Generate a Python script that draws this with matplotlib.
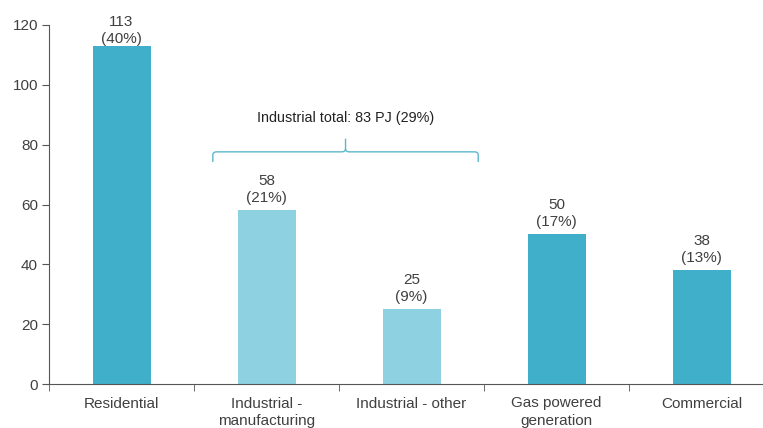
import matplotlib
matplotlib.use("Agg")
import matplotlib.pyplot as plt
from matplotlib.path import Path
from matplotlib.patches import PathPatch
import numpy as np

categories = ["Residential", "Industrial -\nmanufacturing", "Industrial - other",
              "Gas powered\ngeneration", "Commercial"]
values = [113, 58, 25, 50, 38]
shares = ["40%", "21%", "9%", "17%", "13%"]
is_industrial = [False, True, True, False, False]
bracket_text = "Industrial total: 83 PJ (29%)"
yticks = [0, 20, 40, 60, 80, 100, 120]

dark = "#40AFCA"
light = "#8ED2E1"
txt = "#404040"

plt.rcParams["font.family"] = ["Liberation Sans", "DejaVu Sans"]
fig = plt.figure(figsize=(7.63, 4.28), dpi=100)
ax = fig.add_axes([49/763, 44/428, 725/763, 359/428])

x = np.arange(len(categories))
colors = [light if ind else dark for ind in is_industrial]
ax.bar(x, values, width=0.4, color=colors, zorder=2)

ax.set_xlim(-0.5, len(categories) - 0.5)
ax.set_ylim(0, 120)
ax.set_yticks(yticks)
ax.set_yticklabels([str(t) for t in yticks], fontsize=11, color=txt)
ax.set_xticks(x)
ax.set_xticklabels(categories, fontsize=11, color=txt, va="top", linespacing=1.3)
ax.tick_params(axis="x", length=0, pad=9)
ax.set_xticks(np.arange(-0.5, len(categories)), minor=True)
ax.tick_params(axis="x", which="minor", length=5, direction="out", color="#555555")
ax.tick_params(axis="y", length=5, direction="out", color="#555555", pad=3)

for s in ["top", "right"]:
    ax.spines[s].set_visible(False)
ax.spines["left"].set_color("#555555")
ax.spines["bottom"].set_color("#555555")

for xi, v, s in zip(x, values, shares):
    off = 0 if v > 110 else 4
    ax.annotate(f"{v}\n({s})", (xi, v), xytext=(0, off), textcoords="offset points",
                ha="center", va="bottom", fontsize=11, color=txt, linespacing=1.25)

# bracket over industrial bars
ind_idx = [i for i, f in enumerate(is_industrial) if f]
x0 = ind_idx[0] - 0.37
x1 = ind_idx[-1] + 0.46
xm = (x0 + x1) / 2
yb = 77.6
ye = 74.2
yn = 82.0
rx = 0.025
ry = 1.0
verts = [(x0, ye), (x0, yb - ry), (x0, yb), (x0 + rx, yb),
         (xm - rx, yb), (xm, yb), (xm, yb + ry), (xm, yn),
         (xm, yb + ry), (xm, yb), (xm + rx, yb),
         (x1 - rx, yb), (x1, yb), (x1, yb - ry), (x1, ye)]
codes = [Path.MOVETO, Path.LINETO, Path.CURVE3, Path.CURVE3,
         Path.LINETO, Path.CURVE3, Path.CURVE3, Path.LINETO,
         Path.MOVETO, Path.CURVE3, Path.CURVE3,
         Path.LINETO, Path.CURVE3, Path.CURVE3, Path.LINETO]
patch = PathPatch(Path(verts, codes), facecolor="none", edgecolor="#5BB8CC", lw=1.0,
                  clip_on=False, zorder=3)
ax.add_patch(patch)
ax.text(xm, 89, bracket_text, ha="center", va="center", fontsize=10.4, color="#222222")

fig.savefig("out.png", dpi=100)
